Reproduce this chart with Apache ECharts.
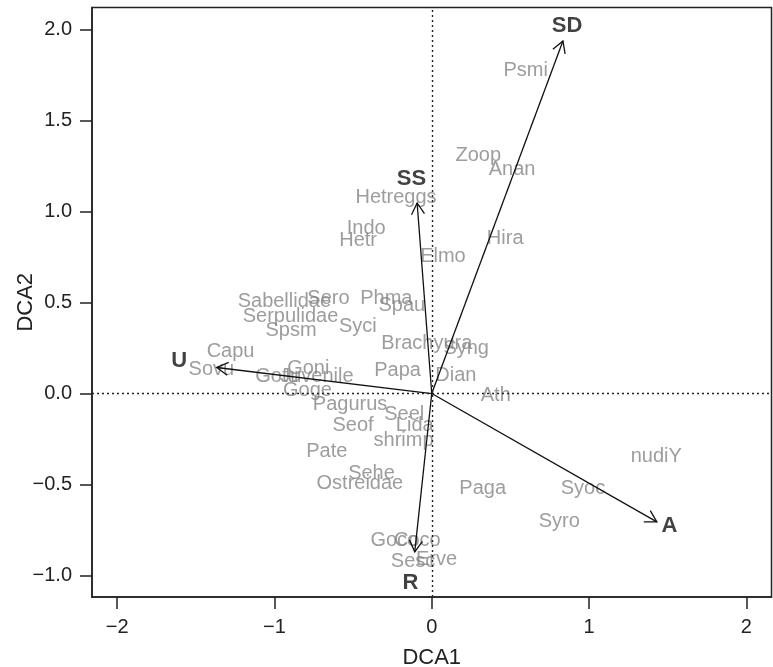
<!DOCTYPE html>
<html>
<head>
<meta charset="utf-8">
<script src="https://cdn.jsdelivr.net/npm/echarts@6/dist/echarts.min.js"></script>
<style>
  html, body { margin: 0; padding: 0; background: #fff; }
  #chart { width: 773px; height: 667px; }
</style>
</head>
<body>
<div id="chart"></div>
<script>
// species scores (DCA1, DCA2)
const speciesNames = ['Psmi', 'Zoop', 'Anan', 'Hetreggs', 'Indo', 'Hetr', 'Hira', 'Elmo',
  'Sabellidae', 'Serpulidae', 'Spsm', 'Sero', 'Phma', 'Spau', 'Syci', 'Brachyura', 'Syng',
  'Papa', 'Dian', 'Ath', 'Capu', 'Sovu', 'Goni', 'Gotu', 'Juvenile', 'Goge', 'Pagurus',
  'Seel', 'Lida', 'Seof', 'shrimp', 'Pate', 'Sehe', 'Ostreidae', 'Paga', 'Syoc', 'Syro',
  'nudiY', 'Goco', 'Coco', 'Sesc', 'Erve']
const speciesX = [0.597, 0.296, 0.511, -0.227, -0.417, -0.468, 0.467, 0.071,
  -0.937, -0.898, -0.895, -0.657, -0.289, -0.19, -0.47, -0.032, 0.219,
  -0.217, 0.153, 0.407, -1.279, -1.401, -0.785, -0.984, -0.73, -0.79, -0.519,
  -0.175, -0.108, -0.5, -0.179, -0.667, -0.383, -0.457, 0.324, 0.961, 0.811,
  1.427, -0.238, -0.092, -0.119, 0.03]
const speciesY = [1.773, 1.308, 1.231, 1.079, 0.907, 0.842, 0.852, 0.754,
  0.508, 0.421, 0.348, 0.522, 0.522, 0.485, 0.367, 0.274, 0.249,
  0.128, 0.10, -0.01, 0.232, 0.13, 0.137, 0.095, 0.095, 0.018, -0.062,
  -0.114, -0.176, -0.176, -0.256, -0.32, -0.438, -0.497, -0.522, -0.522, -0.705,
  -0.345, -0.806, -0.806, -0.925, -0.91]

// fitted environmental vectors
const vecNames = ['SD', 'SS', 'U', 'R', 'A']
const vecX = [0.834, -0.093, -1.367, -0.108, 1.431]
const vecY = [1.937, 1.047, 0.143, -0.870, -0.705]
const vecLabelX = [0.86, -0.129, -1.605, -0.135, 1.511]
const vecLabelY = [2.019, 1.181, 0.177, -1.04, -0.729]

const xTicks = [-2, -1, 0, 1, 2]
const yTicks = [-1.0, -0.5, 0.0, 0.5, 1.0, 1.5, 2.0]

const FONT = "'Liberation Sans', Arial, Helvetica, sans-serif"
const minus = s => String(s).replace('-', '\u2212')

const chart = echarts.init(document.getElementById('chart'))

const speciesData = speciesNames.map((n, i) => [speciesX[i], speciesY[i], n])
const vecData = vecNames.map((n, i) => [vecX[i], vecY[i], n])
const vecLabelData = vecNames.map((n, i) => [vecLabelX[i], vecLabelY[i], n])

const renderArrow = (params, api) => {
    const o = api.coord([0, 0])
    const t = api.coord([api.value(0), api.value(1)])
    const ang = Math.atan2(t[1] - o[1], t[0] - o[0])
    const h = 13, a = Math.PI / 6
    const p1 = [t[0] - h * Math.cos(ang - a), t[1] - h * Math.sin(ang - a)]
    const p2 = [t[0] - h * Math.cos(ang + a), t[1] - h * Math.sin(ang + a)]
    return {
        type: 'group',
        children: [
            { type: 'line', shape: { x1: o[0], y1: o[1], x2: t[0], y2: t[1] }, style: { stroke: '#111', lineWidth: 1.3 } },
            { type: 'polyline', shape: { points: [p1, t, p2] }, style: { stroke: '#111', lineWidth: 1.3, fill: null } }
        ]
    }
}

const option = {
    animation: false,
    backgroundColor: '#fff',
    textStyle: { fontFamily: FONT },
    grid: {
        left: 92, right: 1.5, top: 7.5, bottom: 70,
        show: true, borderColor: '#222', borderWidth: 1.5,
        outerBoundsMode: 'none'
    },
    xAxis: {
        type: 'value',
        min: -2.16, max: 2.16,
        name: 'DCA1', nameLocation: 'middle', nameGap: 50, nameMoveOverlap: false,
        nameTextStyle: { fontSize: 22, color: '#222', fontFamily: FONT },
        axisLine: { show: true, onZero: false, lineStyle: { color: '#222', width: 1.5 } },
        axisTick: { show: true, inside: false, length: 12, customValues: xTicks, lineStyle: { color: '#222', width: 1.5 } },
        axisLabel: { customValues: xTicks, margin: 20, fontSize: 20, color: '#222', fontFamily: FONT, formatter: v => minus(v) },
        splitLine: { show: false }
    },
    yAxis: {
        type: 'value',
        min: -1.118, max: 2.121,
        name: 'DCA2', nameLocation: 'middle', nameGap: 55, nameRotate: 90, nameMoveOverlap: false,
        nameTextStyle: { fontSize: 22, color: '#222', fontFamily: FONT },
        axisLine: { show: true, onZero: false, lineStyle: { color: '#222', width: 1.5 } },
        axisTick: { show: true, inside: false, length: 12, customValues: yTicks, lineStyle: { color: '#222', width: 1.5 } },
        axisLabel: { customValues: yTicks, margin: 20, fontSize: 20, color: '#222', fontFamily: FONT, formatter: v => minus(v.toFixed(1)) },
        splitLine: { show: false }
    },
    series: [
        {
            type: 'scatter',
            data: speciesData,
            symbolSize: 0,
            z: 2,
            label: {
                show: true, position: 'inside',
                formatter: p => p.value[2],
                color: '#858585', fontSize: 20, fontFamily: FONT
            },
            markLine: {
                silent: true,
                symbol: ['none', 'none'],
                label: { show: false },
                lineStyle: { color: '#222', width: 1.4, type: [2, 3] },
                data: [{ xAxis: 0 }, { yAxis: 0 }]
            }
        },
        {
            type: 'custom',
            data: vecData,
            encode: { x: 0, y: 1 },
            z: 3,
            renderItem: renderArrow
        },
        {
            type: 'scatter',
            data: vecLabelData,
            symbolSize: 0,
            z: 4,
            label: {
                show: true, position: 'inside',
                formatter: p => p.value[2],
                color: '#111', fontSize: 22, fontWeight: 'bold', fontFamily: FONT
            }
        }
    ]
}

chart.setOption(option)
</script>
</body>
</html>
